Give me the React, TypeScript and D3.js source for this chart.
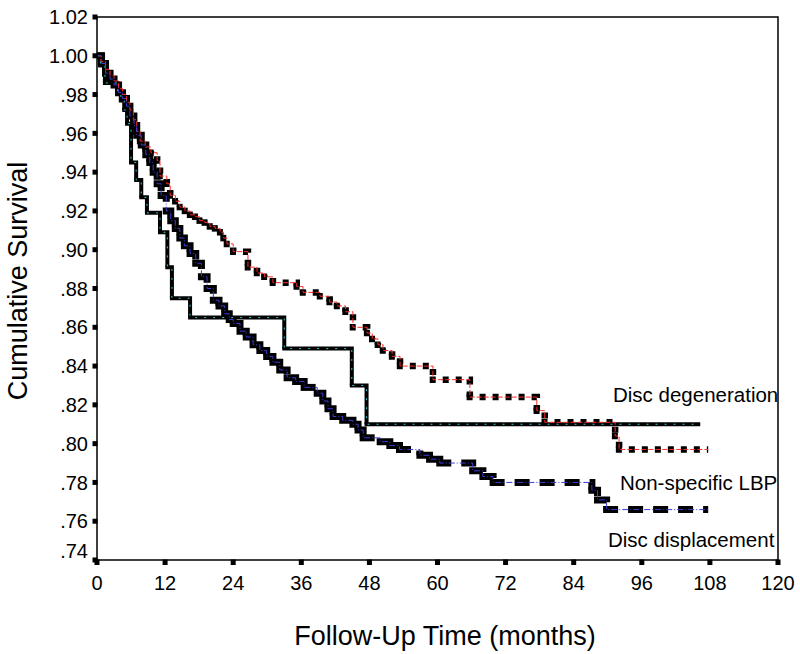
import React, { useEffect, useRef } from 'react';
import * as d3 from 'd3';

type Pt = [number, number];

const xTicks = [0, 12, 24, 36, 48, 60, 72, 84, 96, 108, 120];
const yTicks = [0.74, 0.76, 0.78, 0.8, 0.82, 0.84, 0.86, 0.88, 0.9, 0.92, 0.94, 0.96, 0.98, 1.0, 1.02];
const yTickLabels = ['.74', '.76', '.78', '.80', '.82', '.84', '.86', '.88', '.90', '.92', '.94', '.96', '.98', '1.00', '1.02'];

// solid black line (cyan censor marks)
const discDegeneration: Pt[] = [
  [0, 1.0], [0.6, 0.995], [1.4, 0.986], [3.6, 0.982], [4.2, 0.977], [4.8, 0.972], [5.3, 0.965],
  [6.0, 0.945], [6.9, 0.936], [7.8, 0.927], [8.8, 0.919], [11.1, 0.909], [12.4, 0.891],
  [13.2, 0.875], [16.4, 0.865], [33.0, 0.849], [44.9, 0.83], [47.5, 0.81], [106.3, 0.81],
];

// dotted black line (red)
const nonSpecificLBP: Pt[] = [
  [0, 1.0], [0.7, 0.997], [1.5, 0.993], [2.3, 0.99], [3.0, 0.987], [3.8, 0.983], [4.5, 0.98],
  [5.2, 0.976], [5.8, 0.972], [6.4, 0.967], [7.0, 0.961], [7.6, 0.956], [8.5, 0.953], [9.5, 0.95],
  [10.6, 0.946], [11.1, 0.938], [12.3, 0.934], [12.9, 0.928], [13.8, 0.925], [14.6, 0.922],
  [15.5, 0.92], [16.4, 0.918], [17.3, 0.917], [18.1, 0.915], [19.0, 0.914], [19.9, 0.912],
  [20.8, 0.911], [21.7, 0.909], [22.3, 0.906], [22.9, 0.903], [24.0, 0.899], [26.6, 0.891],
  [28.2, 0.888], [29.5, 0.886], [31.0, 0.883], [35.2, 0.881], [36.3, 0.878], [39.3, 0.876],
  [41.0, 0.873], [42.3, 0.871], [43.8, 0.868], [45.1, 0.86], [47.6, 0.857], [48.5, 0.854],
  [49.5, 0.851], [50.4, 0.848], [52.0, 0.845], [53.4, 0.84], [59.2, 0.833], [65.7, 0.824],
  [77.5, 0.817], [78.9, 0.811], [91.3, 0.804], [92.0, 0.797], [107.7, 0.797],
];

// dashed black line (blue)
const discDisplacement: Pt[] = [
  [0, 1.0], [0.8, 0.996], [1.5, 0.991], [2.3, 0.988], [3.0, 0.985], [3.8, 0.981], [4.5, 0.978],
  [5.2, 0.974], [5.8, 0.969], [6.5, 0.964], [7.0, 0.959], [7.8, 0.954], [8.6, 0.949], [9.3, 0.945],
  [9.9, 0.94], [10.6, 0.934], [11.3, 0.928], [12.2, 0.92], [13.0, 0.915], [13.8, 0.911],
  [14.6, 0.906], [15.4, 0.902], [16.4, 0.898], [17.4, 0.893], [18.4, 0.886], [19.4, 0.88],
  [20.5, 0.874], [21.5, 0.871], [22.5, 0.867], [23.3, 0.864], [24.0, 0.862], [25.2, 0.858],
  [26.3, 0.855], [27.5, 0.851], [28.7, 0.848], [29.9, 0.845], [31.0, 0.842], [32.2, 0.838],
  [33.5, 0.834], [35.0, 0.832], [36.5, 0.829], [38.8, 0.826], [39.8, 0.822], [40.7, 0.818],
  [41.6, 0.814], [43.3, 0.812], [45.1, 0.81], [46.0, 0.807], [46.9, 0.803], [49.9, 0.801],
  [51.6, 0.799], [53.3, 0.797], [56.9, 0.794], [58.6, 0.792], [60.4, 0.79], [66.2, 0.786],
  [68.0, 0.783], [69.8, 0.78], [87.2, 0.776], [88.2, 0.771], [89.8, 0.766], [107.7, 0.766],
];

const groupNames = ['Disc degeneration', 'Non-specific LBP', 'Disc displacement'];

const App: React.FC = () => {
  const svgRef = useRef<SVGSVGElement>(null);

  useEffect(() => {
    if (!svgRef.current) return;
    const svg = d3.select(svgRef.current);
    svg.selectAll('*').remove();

    const width = 800;
    const height = 654;
    const margin = { top: 17, right: 22, bottom: 94, left: 97 };
    const font = '"Liberation Sans", Arial, sans-serif';

    const x = d3.scaleLinear().domain([0, 120]).range([margin.left, width - margin.right]);
    const y = d3.scaleLinear().domain([0.74, 1.02]).range([height - margin.bottom, margin.top]);

    const line = d3.line<Pt>()
      .x(d => x(d[0]))
      .y(d => y(d[1]))
      .curve(d3.curveStepAfter);

    // one path per step so the dash pattern restarts at every event (like SPSS)
    const stepPaths = (data: Pt[], w: number) =>
      d3.pairs(data).map(([a, b]) => {
        const p = d3.path();
        p.moveTo(x(a[0]) - (a === data[0] ? 0 : w / 2), y(a[1]));
        p.lineTo(x(b[0]), y(a[1]));
        p.lineTo(x(b[0]), y(b[1]));
        return p.toString();
      });

    const g = svg.append('g');

    const drawBlack = (data: Pt[], w: number, dash: string | null) => {
      g.append('g').selectAll('path').data(stepPaths(data, w)).enter().append('path')
        .attr('d', d => d)
        .attr('fill', 'none')
        .attr('stroke', '#000')
        .attr('stroke-width', w)
        .attr('stroke-dasharray', dash);
    };

    drawBlack(discDegeneration, 4, null);
    drawBlack(discDisplacement, 7, '15,10');
    drawBlack(nonSpecificLBP, 6.5, '6,7');

    // thin coloured lines on top
    g.append('path').datum(discDegeneration)
      .attr('d', line).attr('fill', 'none').attr('stroke', '#30c8d0').attr('stroke-width', 1)
      .attr('stroke-dasharray', '2,7');
    g.append('path').datum(nonSpecificLBP)
      .attr('d', line).attr('fill', 'none').attr('stroke', '#ff2a2a').attr('stroke-width', 1)
      .attr('stroke-dasharray', '5,2');
    g.append('path').datum(discDisplacement)
      .attr('d', line).attr('fill', 'none').attr('stroke', '#3c3cd8').attr('stroke-width', 1)
      .attr('stroke-dasharray', '6,2,1,2');

    // frame
    svg.append('rect')
      .attr('x', x(0)).attr('y', y(1.02))
      .attr('width', x(120) - x(0)).attr('height', y(0.74) - y(1.02))
      .attr('fill', 'none').attr('stroke', '#000').attr('stroke-width', 1.5);

    // y ticks
    const yAxis = svg.append('g');
    yAxis.selectAll('rect').data(yTicks).enter().append('rect')
      .attr('x', x(0) - 4.5).attr('y', d => y(d) - 2.5)
      .attr('width', 5).attr('height', 5).attr('fill', '#000');
    yAxis.selectAll('text').data(yTicks).enter().append('text')
      .attr('x', x(0) - 9)
      .attr('y', (d, i) => y(d) + (i === 0 ? -9 : 0))
      .attr('dy', '0.36em')
      .attr('text-anchor', 'end')
      .style('font-family', font).style('font-size', '20px')
      .text((d, i) => yTickLabels[i]);

    // x ticks
    const xAxis = svg.append('g');
    xAxis.selectAll('rect').data(xTicks).enter().append('rect')
      .attr('x', d => x(d) - 2.5).attr('y', y(0.74) - 0.5)
      .attr('width', 5).attr('height', 5.5).attr('fill', '#000');
    xAxis.selectAll('text').data(xTicks).enter().append('text')
      .attr('x', d => x(d)).attr('y', y(0.74) + 30)
      .attr('text-anchor', 'middle')
      .style('font-family', font).style('font-size', '20px')
      .text(d => String(d));

    // group labels
    const labelPos = [[613, 402], [620, 490], [608, 547]];
    svg.selectAll('.grp').data(groupNames).enter().append('text')
      .attr('class', 'grp')
      .attr('x', (d, i) => labelPos[i][0]).attr('y', (d, i) => labelPos[i][1])
      .style('font-family', font).style('font-size', '20.5px')
      .text(d => d);

    // axis titles
    svg.append('text')
      .attr('x', 445).attr('y', 645).attr('text-anchor', 'middle')
      .style('font-family', font).style('font-size', '27px')
      .text('Follow-Up Time (months)');
    svg.append('text')
      .attr('transform', 'translate(27,281) rotate(-90)').attr('text-anchor', 'middle')
      .style('font-family', font).style('font-size', '27px')
      .text('Cumulative Survival');
  }, []);

  return (
    <svg
      ref={svgRef}
      width={800}
      height={654}
      style={{ position: 'absolute', left: 0, top: 0, background: '#fff' }}
    />
  );
};

export default App;
